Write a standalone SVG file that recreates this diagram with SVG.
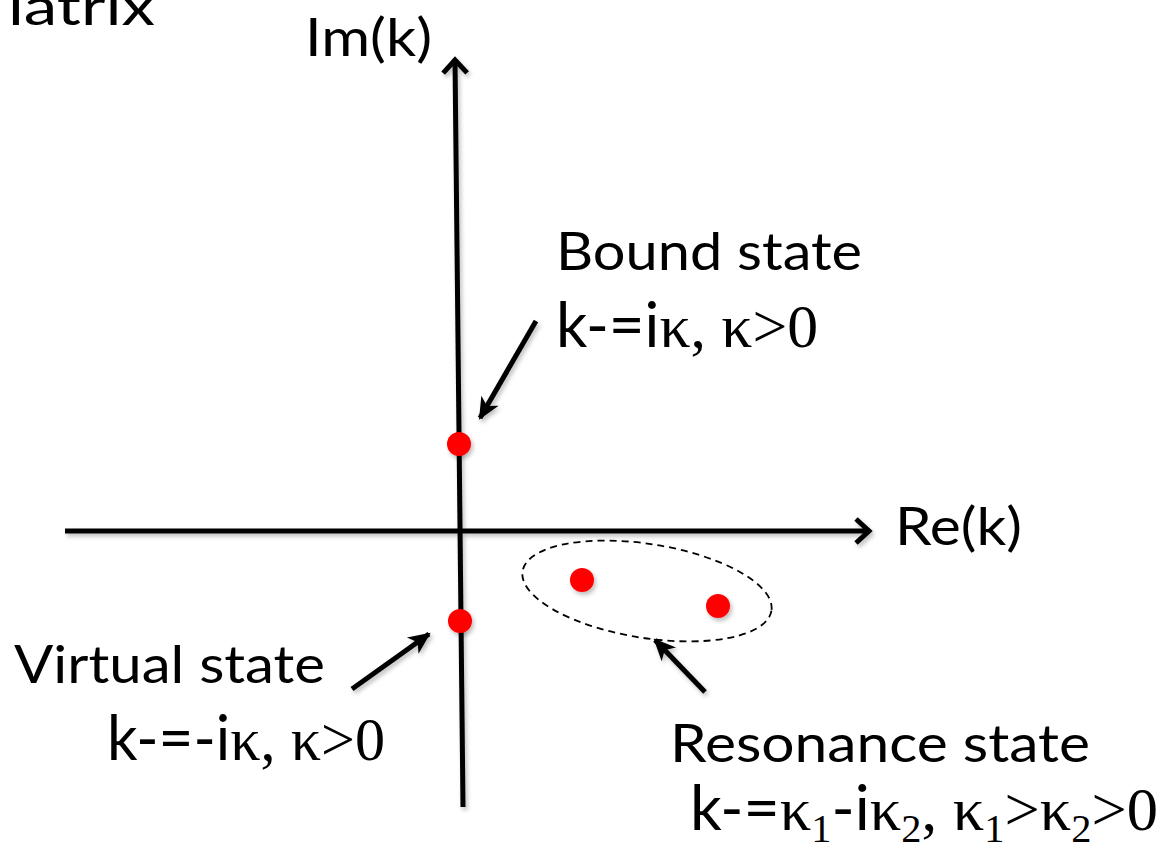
<svg xmlns="http://www.w3.org/2000/svg" width="1167" height="849" viewBox="0 0 1167 849">
<style>
.sans{font-family:Lato,"Liberation Sans",sans-serif;fill:#000}
.serif{font-family:"Liberation Serif","DejaVu Serif",serif}
.ax{stroke:#000;stroke-width:5;fill:none}
.ann{stroke:#000;stroke-width:5;fill:none}
.dot{fill:#ff0000}
</style>
<defs>
<filter id="sh" x="-20%" y="-20%" width="140%" height="140%">
<feDropShadow dx="2" dy="3" stdDeviation="2" flood-color="#000" flood-opacity="0.25"/>
</filter>
<marker id="chev" markerUnits="userSpaceOnUse" viewBox="-20 -15 24 30" refX="0" refY="0" markerWidth="24" markerHeight="30" orient="auto" overflow="visible">
<path d="M-13,-12 L0,0 L-13,12" fill="none" stroke="#000" stroke-width="5" stroke-linejoin="miter"/>
</marker>
<marker id="tri" markerUnits="userSpaceOnUse" viewBox="-22 -10 24 20" refX="0" refY="0" markerWidth="24" markerHeight="20" orient="auto" overflow="visible">
<path d="M2,0 L-20,-10 L-14,0 L-20,10 Z" fill="#000"/>
</marker>
</defs>
<g id="axes" filter="url(#sh)">
<line class="ax" x1="463" y1="807" x2="455" y2="60" marker-end="url(#chev)"/>
<line class="ax" x1="65" y1="531" x2="869" y2="531" marker-end="url(#chev)"/>
</g>
<g id="connectors" filter="url(#sh)">
<line class="ann" x1="536" y1="321" x2="480" y2="418" marker-end="url(#tri)"/>
<line class="ann" x1="352" y1="689" x2="429" y2="634" marker-end="url(#tri)"/>
<line class="ann" x1="705" y1="692" x2="655" y2="640" marker-end="url(#tri)"/>
</g>
<g id="resonance-region">
<ellipse cx="647" cy="591" rx="126" ry="47" transform="rotate(9 647 591)" fill="none" stroke="#000" stroke-width="1.8" stroke-dasharray="7 5"/>
</g>
<g id="bound-pole" filter="url(#sh)"><circle class="dot" cx="459" cy="444" r="12"/></g>
<g id="virtual-pole" filter="url(#sh)"><circle class="dot" cx="460" cy="621" r="12"/></g>
<g id="resonance-poles" filter="url(#sh)">
<circle class="dot" cx="582" cy="580" r="12"/>
<circle class="dot" cx="718" cy="606" r="12"/>
</g>
<g id="labels">
<text class="sans" x="8" y="25" font-size="52" textLength="147" lengthAdjust="spacingAndGlyphs">latrix</text>
<text class="sans" x="305" y="56" font-size="52" textLength="127" lengthAdjust="spacingAndGlyphs">Im(k)</text>
<text class="sans" x="895" y="545" font-size="52" textLength="127" lengthAdjust="spacingAndGlyphs">Re(k)</text>
</g>
<g id="bound-label">
<text class="sans" x="556" y="270" font-size="52" textLength="306" lengthAdjust="spacingAndGlyphs">Bound state</text>
<text x="556" y="347" font-size="62" textLength="262" lengthAdjust="spacingAndGlyphs"><tspan class="sans">k-=i</tspan><tspan class="serif">κ, κ&gt;0</tspan></text>
</g>
<g id="virtual-label">
<text class="sans" x="14" y="683" font-size="52" textLength="311" lengthAdjust="spacingAndGlyphs">Virtual state</text>
<text x="107" y="760" font-size="62" textLength="278" lengthAdjust="spacingAndGlyphs"><tspan class="sans">k-=-i</tspan><tspan class="serif">κ, κ&gt;0</tspan></text>
</g>
<g id="resonance-label">
<text class="sans" x="670" y="762" font-size="52" textLength="420" lengthAdjust="spacingAndGlyphs">Resonance state</text>
<text x="690" y="830" font-size="62" textLength="468" lengthAdjust="spacingAndGlyphs"><tspan class="sans">k-=</tspan><tspan class="serif">κ</tspan><tspan class="serif" font-size="40" dy="12">1</tspan><tspan class="sans" dy="-12">-i</tspan><tspan class="serif">κ</tspan><tspan class="serif" font-size="40" dy="12">2</tspan><tspan class="serif" dy="-12">, κ</tspan><tspan class="serif" font-size="40" dy="12">1</tspan><tspan class="serif" dy="-12">&gt;κ</tspan><tspan class="serif" font-size="40" dy="12">2</tspan><tspan class="serif" dy="-12">&gt;0</tspan></text>
</g>
</svg>
